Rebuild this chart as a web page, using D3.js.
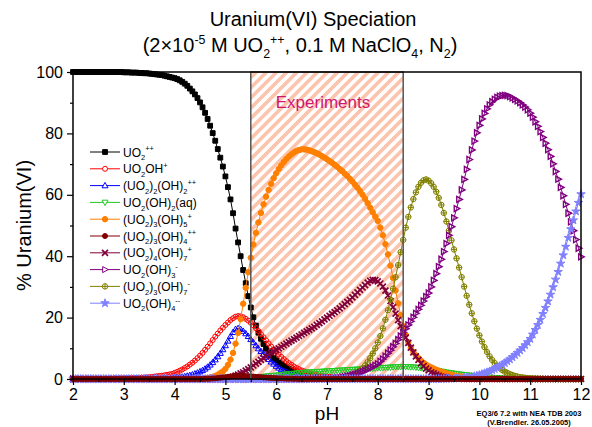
<!DOCTYPE html>
<html>
<head>
<meta charset="utf-8">
<script src="https://cdn.jsdelivr.net/npm/d3@7"></script>
<style>
  body { margin: 0; background: #fff; }
  svg { display: block; font-family: "Liberation Sans", Arial, sans-serif; }
</style>
</head>
<body>
<svg id="chart" width="592" height="427"></svg>
<script>
// readings taken every 0.05 pH, from pH 2 to pH 12 (one row = one pH unit)
const phStart = 2, phStep = 0.05;
const phTicks = [2, 3, 4, 5, 6, 7, 8, 9, 10, 11, 12];
const phMinor = [2.5, 3.5, 4.5, 5.5, 6.5, 7.5, 8.5, 9.5, 10.5, 11.5];
const pctTicks = [0, 20, 40, 60, 80, 100];
const pctMinor = [10, 30, 50, 70, 90];
const expRange = [5.5, 8.5];

const labels = [
  "UO_2^{++}", "UO_2OH^+", "(UO_2)_2(OH)_2^{++}", "UO_2(OH)_2(aq)", "(UO_2)_3(OH)_5^+",
  "(UO_2)_3(OH)_4^{++}", "(UO_2)_4(OH)_7^+", "UO_2(OH)_3^-", "(UO_2)_3(OH)_7^-", "UO_2(OH)_4^{--}"
];

const uo2 = [
  100,100,100,100,100,100,100,100,100,100,100,100,100,100,100,100,100,100,100,100,
  99.9,99.9,99.9,99.8,99.8,99.8,99.7,99.7,99.6,99.6,99.5,99.4,99.3,99.2,99.1,99.0,98.8,98.6,98.4,98.2,
  98.0,97.7,97.3,96.8,96.2,95.5,94.6,93.7,92.7,91.5,90.1,88.5,86.7,84.7,82.5,80.1,77.6,74.9,72.1,69.2,
  66.0,62.5,58.5,54.0,49.0,44.5,40.0,35.5,31.2,27.0,23.3,20.1,17.4,15.1,13.1,11.4,9.9,8.7,7.7,6.8,
  6.1,5.4,4.8,4.3,3.8,3.3,2.9,2.5,2.1,1.8,1.5,1.3,1.1,0.9,0.8,0.7,0.6,0.5,0.4,0.35,
  0.3,0.25,0.2,0.18,0.15,0.12,0.1,0.08,0.06,0.05,0.04,0.03,0.03,0.02,0.02,0.01,0.01,0.01,0,0,
  0,0,0,0,0,0,0,0,0,0,0,0,0,0,0,0,0,0,0,0,
  0,0,0,0,0,0,0,0,0,0,0,0,0,0,0,0,0,0,0,0,
  0,0,0,0,0,0,0,0,0,0,0,0,0,0,0,0,0,0,0,0,
  0,0,0,0,0,0,0,0,0,0,0,0,0,0,0,0,0,0,0,0,
  0
];
const uo2oh = [
  0,0,0,0,0,0.05,0.05,0.05,0.05,0.1,0.1,0.1,0.1,0.1,0.1,0.15,0.15,0.15,0.2,0.2,
  0.2,0.2,0.25,0.3,0.3,0.35,0.4,0.45,0.5,0.55,0.6,0.7,0.8,0.9,1.0,1.1,1.2,1.35,1.5,1.65,
  2.0,2.3,2.7,3.1,3.6,4.1,4.7,5.3,6.0,6.8,7.6,8.5,9.5,10.5,11.6,12.7,13.8,14.8,15.8,16.7,
  17.6,18.4,19.2,19.8,20.3,20.5,20.4,20.1,19.6,19.0,18.3,17.5,16.6,15.6,14.6,13.6,12.6,11.6,10.6,9.7,
  8.8,8.0,7.2,6.5,5.8,5.2,4.6,4.1,3.6,3.2,2.8,2.5,2.2,1.9,1.7,1.5,1.3,1.1,1.0,0.9,
  0.8,0.7,0.6,0.5,0.45,0.4,0.35,0.3,0.25,0.2,0.2,0.15,0.15,0.1,0.1,0.1,0.1,0.05,0.05,0.05,
  0,0,0,0,0,0,0,0,0,0,0,0,0,0,0,0,0,0,0,0,
  0,0,0,0,0,0,0,0,0,0,0,0,0,0,0,0,0,0,0,0,
  0,0,0,0,0,0,0,0,0,0,0,0,0,0,0,0,0,0,0,0,
  0,0,0,0,0,0,0,0,0,0,0,0,0,0,0,0,0,0,0,0,
  0
];
const dimer22 = [
  0,0,0,0,0,0,0,0,0,0,0,0,0,0,0,0,0,0,0,0,
  0,0,0,0,0,0,0,0,0,0,0,0,0,0,0.1,0.1,0.1,0.2,0.2,0.3,
  0.4,0.5,0.6,0.7,0.8,1.0,1.2,1.4,1.7,2.0,2.4,2.8,3.3,3.9,4.6,5.4,6.3,7.3,8.4,9.6,
  10.9,12.4,13.9,15.2,16.2,16.5,16.2,15.6,14.8,13.9,12.9,11.9,10.9,9.9,9.0,8.1,7.2,6.4,5.6,4.9,
  4.2,3.6,3.1,2.6,2.2,1.8,1.5,1.2,1.0,0.8,0.65,0.5,0.4,0.3,0.25,0.2,0.15,0.1,0.1,0.05,
  0,0,0,0,0,0,0,0,0,0,0,0,0,0,0,0,0,0,0,0,
  0,0,0,0,0,0,0,0,0,0,0,0,0,0,0,0,0,0,0,0,
  0,0,0,0,0,0,0,0,0,0,0,0,0,0,0,0,0,0,0,0,
  0,0,0,0,0,0,0,0,0,0,0,0,0,0,0,0,0,0,0,0,
  0,0,0,0,0,0,0,0,0,0,0,0,0,0,0,0,0,0,0,0,
  0
];
const uo2oh2aq = [
  0,0,0,0,0,0,0,0,0,0,0,0,0,0,0,0,0,0,0,0,
  0,0,0,0,0,0,0,0,0,0,0,0,0,0,0,0,0,0,0,0,
  0,0,0,0,0,0,0,0,0,0,0,0,0,0,0,0,0,0,0,0,
  0,0,0,0.1,0.1,0.1,0.2,0.2,0.3,0.3,0.4,0.5,0.5,0.6,0.7,0.8,0.9,1.0,1.0,1.1,
  1.2,1.3,1.4,1.5,1.6,1.6,1.7,1.8,1.9,2.0,2.0,2.1,2.2,2.2,2.3,2.3,2.4,2.4,2.5,2.5,
  2.6,2.6,2.7,2.7,2.8,2.8,2.9,2.9,3.0,3.0,3.1,3.1,3.2,3.2,3.3,3.3,3.4,3.4,3.5,3.5,
  3.6,3.6,3.7,3.7,3.8,3.8,3.9,3.9,4.0,4.0,4.0,4.0,4.0,3.9,3.9,3.8,3.7,3.6,3.5,3.4,
  3.3,3.1,3.0,2.8,2.7,2.5,2.4,2.2,2.1,2.0,1.8,1.7,1.6,1.5,1.4,1.3,1.2,1.1,1.0,0.9,
  0.8,0.7,0.7,0.6,0.5,0.5,0.4,0.4,0.3,0.3,0.2,0.2,0.2,0.1,0.1,0.1,0.1,0.1,0,0,
  0,0,0,0,0,0,0,0,0,0,0,0,0,0,0,0,0,0,0,0,
  0
];
const trimer35 = [
  0,0,0,0,0,0,0,0,0,0,0,0,0,0,0,0,0,0,0,0,
  0,0,0,0,0,0,0,0,0,0,0,0,0,0,0,0,0,0,0,0,
  0,0,0,0,0,0,0,0,0,0,0,0.1,0.2,0.3,0.5,0.7,1.0,1.4,1.9,2.5,
  3.3,4.6,6.3,8.5,11.5,15.0,19.5,24.5,29.7,34.8,39.5,43.8,47.6,51.0,54.1,56.9,59.4,61.6,63.6,65.4,
  67.0,68.4,69.6,70.7,71.7,72.5,73.2,73.8,74.3,74.6,74.8,74.8,74.7,74.5,74.2,73.9,73.5,73.1,72.6,72.1,
  71.6,71.0,70.4,69.8,69.1,68.4,67.7,66.9,66.1,65.2,64.3,63.3,62.3,61.2,60.0,58.7,57.3,55.8,54.3,52.9,
  51.5,49.3,46.8,43.9,40.6,36.9,32.9,28.8,24.7,20.8,17.2,14.4,12.0,10.2,8.8,7.7,6.8,6.0,5.3,4.7,
  4.2,3.8,3.4,3.0,2.7,2.4,2.1,1.9,1.6,1.4,1.2,1.0,0.9,0.8,0.7,0.6,0.5,0.4,0.35,0.3,
  0.25,0.2,0.15,0.1,0.1,0.05,0,0,0,0,0,0,0,0,0,0,0,0,0,0,
  0,0,0,0,0,0,0,0,0,0,0,0,0,0,0,0,0,0,0,0,
  0
];
const trimer34 = [
  0,0,0,0,0,0,0,0,0,0,0,0,0,0,0,0,0,0,0,0,
  0,0,0,0,0,0,0,0,0,0,0,0,0,0,0,0,0,0,0,0,
  0,0,0,0,0,0,0,0,0,0,0,0,0.05,0.05,0.1,0.15,0.2,0.3,0.4,0.5,
  0.6,0.7,0.8,0.9,1.0,1.0,1.0,1.0,0.95,0.9,0.85,0.8,0.7,0.65,0.6,0.5,0.45,0.4,0.35,0.3,
  0.25,0.2,0.2,0.15,0.1,0.1,0.1,0.05,0.05,0,0,0,0,0,0,0,0,0,0,0,
  0,0,0,0,0,0,0,0,0,0,0,0,0,0,0,0,0,0,0,0,
  0,0,0,0,0,0,0,0,0,0,0,0,0,0,0,0,0,0,0,0,
  0,0,0,0,0,0,0,0,0,0,0,0,0,0,0,0,0,0,0,0,
  0,0,0,0,0,0,0,0,0,0,0,0,0,0,0,0,0,0,0,0,
  0,0,0,0,0,0,0,0,0,0,0,0,0,0,0,0,0,0,0,0,
  0
];
const tetramer47 = [
  0,0,0,0,0,0,0,0,0,0,0,0,0,0,0,0,0,0,0,0,
  0,0,0,0,0,0,0,0,0,0,0,0,0,0,0,0,0,0,0,0,
  0,0,0,0,0,0,0,0,0,0,0,0,0,0,0,0,0,0.1,0.1,0.2,
  0.3,0.4,0.6,0.8,1.1,1.4,1.8,2.2,2.7,3.2,3.8,4.4,5.0,5.6,6.2,6.8,7.4,8.0,8.5,9.0,
  9.5,10.0,10.5,11.0,11.5,12.0,12.5,13.0,13.5,14.0,14.5,15.0,15.5,16.0,16.5,17.0,17.6,18.2,18.8,19.4,
  20.0,20.6,21.2,21.8,22.4,23.0,23.7,24.4,25.1,25.8,26.6,27.4,28.2,29.0,29.8,30.6,31.4,32.0,32.3,32.2,
  31.8,31.1,30.1,28.8,27.2,25.4,23.4,21.3,19.2,17.2,15.3,13.5,11.8,10.2,8.7,7.4,6.2,5.1,4.2,3.4,
  2.8,2.2,1.8,1.4,1.1,0.8,0.6,0.5,0.4,0.3,0.2,0.15,0.1,0.1,0.05,0,0,0,0,0,
  0,0,0,0,0,0,0,0,0,0,0,0,0,0,0,0,0,0,0,0,
  0,0,0,0,0,0,0,0,0,0,0,0,0,0,0,0,0,0,0,0,
  0
];
const uo2oh3 = [
  0,0,0,0,0,0,0,0,0,0,0,0,0,0,0,0,0,0,0,0,
  0,0,0,0,0,0,0,0,0,0,0,0,0,0,0,0,0,0,0,0,
  0,0,0,0,0,0,0,0,0,0,0,0,0,0,0,0,0,0,0,0,
  0,0,0,0,0,0,0,0,0,0,0,0,0,0,0,0,0,0,0,0,
  0,0,0,0,0,0,0,0,0,0,0,0,0,0,0.05,0.1,0.1,0.1,0.15,0.2,
  0.2,0.2,0.3,0.3,0.4,0.5,0.6,0.7,0.9,1.1,1.3,1.5,1.8,2.1,2.4,2.7,3.1,3.5,3.9,4.4,
  4.9,5.7,6.5,7.4,8.4,9.4,10.5,11.6,12.8,14.0,15.2,16.4,17.6,18.8,20.1,21.4,22.7,24.0,25.4,26.8,
  28.0,30.0,32.1,34.3,36.6,39.0,41.5,44.1,46.8,49.6,52.5,55.5,58.5,61.6,65.0,68.3,71.5,74.6,77.5,80.2,
  82.6,84.7,86.5,88.0,89.3,90.3,91.1,91.7,92.1,92.3,92.4,92.3,92.0,91.6,91.1,90.6,90.0,89.3,88.6,87.7,
  86.6,85.3,83.8,82.3,80.6,78.7,76.8,74.7,72.5,70.1,67.6,65.1,62.4,59.7,56.9,54.0,51.2,48.3,45.4,42.6,
  39.8
];
const trimer37 = [
  0,0,0,0,0,0,0,0,0,0,0,0,0,0,0,0,0,0,0,0,
  0,0,0,0,0,0,0,0,0,0,0,0,0,0,0,0,0,0,0,0,
  0,0,0,0,0,0,0,0,0,0,0,0,0,0,0,0,0,0,0,0,
  0,0,0,0,0,0,0,0,0,0,0,0,0,0,0,0,0,0,0,0,
  0,0,0,0,0,0,0,0,0,0,0,0,0,0,0,0,0,0,0,0,
  0,0,0,0,0,0,0.1,0.2,0.3,0.6,1.0,1.4,2.0,2.7,3.5,4.4,5.5,6.8,8.3,10.0,
  11.9,14.0,16.5,19.3,22.4,25.8,29.4,33.2,37.1,41.3,45.3,49.3,52.8,55.9,58.6,60.8,62.6,63.9,64.7,65.0,
  64.6,63.8,62.6,61.0,59.0,56.7,54.1,51.3,48.3,45.2,42.2,39.3,36.3,33.2,30.1,27.1,24.2,21.4,18.8,16.4,
  14.2,12.2,10.4,8.8,7.4,6.2,5.2,4.3,3.5,2.9,2.4,2.0,1.6,1.3,1.0,0.8,0.6,0.5,0.4,0.3,
  0.25,0.2,0.15,0.1,0.1,0.05,0,0,0,0,0,0,0,0,0,0,0,0,0,0,
  0
];
const uo2oh4 = [
  0,0,0,0,0,0,0,0,0,0,0,0,0,0,0,0,0,0,0,0,
  0,0,0,0,0,0,0,0,0,0,0,0,0,0,0,0,0,0,0,0,
  0,0,0,0,0,0,0,0,0,0,0,0,0,0,0,0,0,0,0,0,
  0,0,0,0,0,0,0,0,0,0,0,0,0,0,0,0,0,0,0,0,
  0,0,0,0,0,0,0,0,0,0,0,0,0,0,0,0,0,0,0,0,
  0,0,0,0,0,0,0,0,0,0,0,0,0,0,0,0,0,0,0,0,
  0,0,0,0,0,0,0,0,0,0,0,0,0,0,0,0,0,0,0,0,
  0,0,0,0,0,0,0.05,0.05,0.1,0.1,0.15,0.2,0.25,0.3,0.4,0.5,0.6,0.7,0.9,1.1,
  1.3,1.6,1.9,2.2,2.5,2.9,3.3,3.7,4.2,4.7,5.2,5.8,6.4,7.1,7.8,8.5,9.3,10.1,11.0,12.0,
  13.1,14.5,16.0,17.6,19.3,21.2,23.2,25.3,27.5,29.9,32.4,34.9,37.6,40.3,43.1,46.0,48.8,51.7,54.6,57.4,
  60.2
];

const series = [
  { name: labels[0], values: uo2,        color: "#000000", marker: "square",     filled: true },
  { name: labels[1], values: uo2oh,      color: "#ff0000", marker: "circle",     filled: false },
  { name: labels[2], values: dimer22,    color: "#0000ff", marker: "triUp",      filled: false },
  { name: labels[3], values: uo2oh2aq,   color: "#22c822", marker: "triDown",    filled: false },
  { name: labels[4], values: trimer35,   color: "#ff8000", marker: "circlePlus", filled: true },
  { name: labels[5], values: trimer34,   color: "#800000", marker: "circle",     filled: true },
  { name: labels[6], values: tetramer47, color: "#80003a", marker: "x",          filled: false },
  { name: labels[7], values: uo2oh3,     color: "#800080", marker: "triRight",   filled: false },
  { name: labels[8], values: trimer37,   color: "#808000", marker: "circlePlus", filled: false },
  { name: labels[9], values: uo2oh4,     color: "#8080ff", marker: "star",       filled: true }
];
const drawOrder = [0, 1, 2, 3, 4, 6, 8, 7, 9, 5];

const svg = d3.select("#chart");
const x = d3.scaleLinear().domain([2, 12]).range([73, 581]);
const y = d3.scaleLinear().domain([0, 100]).range([379, 72]);
const phAt = i => phStart + i * phStep;

// little parser for "UO_2^{++}" style labels
function parseChem(s) {
  const segs = [];
  let buf = "", i = 0;
  while (i < s.length) {
    const c = s[i];
    if (c === "_" || c === "^") {
      if (buf) { segs.push({ t: buf, m: 0 }); buf = ""; }
      let t;
      if (s[i + 1] === "{") { const j = s.indexOf("}", i); t = s.slice(i + 2, j); i = j + 1; }
      else { t = s[i + 1]; i += 2; }
      segs.push({ t: t, m: c === "_" ? 1 : -1 });
    } else { buf += c; i++; }
  }
  if (buf) segs.push({ t: buf, m: 0 });
  return segs;
}
function richText(sel, s, size) {
  let cur = 0;
  parseChem(s).forEach(seg => {
    const off = seg.m === 1 ? size * 0.3 : seg.m === -1 ? -size * 0.42 : 0;
    sel.append("tspan")
      .attr("dy", off - cur)
      .attr("font-size", seg.m ? size * 0.62 : size)
      .text(seg.t);
    cur = off;
  });
}

const circ = r => `M${r},0A${r},${r} 0 1,1 ${-r},0A${r},${r} 0 1,1 ${r},0Z`;
function markerPath(kind) {
  if (kind === "square") return "M-2.4,-2.4H2.4V2.4H-2.4Z";
  if (kind === "circle") return circ(2.5);
  if (kind === "triUp") return "M0,-3.2L3,2.2H-3Z";
  if (kind === "triDown") return "M0,3.2L3,-2.2H-3Z";
  if (kind === "triRight") return "M3.3,0L-2.3,-3V3Z";
  if (kind === "circlePlus") return circ(2.7) + "M-3,0H3M0,-3V3";
  if (kind === "x") return "M-3,-3L3,3M-3,3L3,-3";
  if (kind === "star") return d3.symbol(d3.symbolStar, 22)();
  return circ(2.5);
}

// hatched experiments window
const defs = svg.append("defs");
defs.append("pattern")
  .attr("id", "hatch")
  .attr("patternUnits", "userSpaceOnUse")
  .attr("width", 7.2).attr("height", 7.2)
  .attr("patternTransform", "rotate(45)")
  .append("rect")
  .attr("width", 3.6).attr("height", 7.2)
  .attr("fill", "#fcc3ad");

svg.append("rect")
  .attr("x", x(expRange[0])).attr("y", y(100))
  .attr("width", x(expRange[1]) - x(expRange[0]))
  .attr("height", y(0) - y(100))
  .attr("fill", "url(#hatch)");

svg.append("text")
  .attr("x", 323)
  .attr("y", 108)
  .attr("text-anchor", "middle")
  .attr("font-size", 17)
  .attr("fill", "#d0166e")
  .text("Experiments");

// curves
const line = d3.line().x((d, i) => x(phAt(i))).y(d => y(d));
const plot = svg.append("g");
drawOrder.forEach(k => {
  const s = series[k];
  const g = plot.append("g");
  g.append("path")
    .attr("d", line(s.values))
    .attr("fill", "none")
    .attr("stroke", s.color)
    .attr("stroke-width", 1);
  g.selectAll("path.m")
    .data(s.values)
    .enter()
    .append("path")
    .attr("class", "m")
    .attr("transform", (d, i) => `translate(${x(phAt(i))},${y(d)})`)
    .attr("d", markerPath(s.marker))
    .attr("fill", s.filled ? s.color : "none")
    .attr("stroke", s.color)
    .attr("stroke-width", s.marker === "x" ? 1.7 : s.marker === "triRight" ? 1.4 : 1);
});

// experiments border over curves
svg.append("rect")
  .attr("x", x(expRange[0])).attr("y", y(100))
  .attr("width", x(expRange[1]) - x(expRange[0]))
  .attr("height", y(0) - y(100))
  .attr("fill", "none")
  .attr("stroke", "#555")
  .attr("stroke-width", 1.5);

// axes
const fontAxis = g => g.selectAll("text").attr("font-size", 16).attr("fill", "#000")
  .attr("font-family", "Liberation Sans, Arial, sans-serif");

const xAxis = svg.append("g")
  .attr("transform", `translate(0,${y(0)})`)
  .call(d3.axisBottom(x).tickValues(phTicks).tickSize(6).tickPadding(4).tickFormat(d3.format("d")));
xAxis.select(".domain").remove();
fontAxis(xAxis);
const xMinor = svg.append("g")
  .attr("transform", `translate(0,${y(0)})`)
  .call(d3.axisBottom(x).tickValues(phMinor).tickSize(3).tickFormat(""));
xMinor.select(".domain").remove();

const yAxis = svg.append("g")
  .attr("transform", `translate(${x(2)},0)`)
  .call(d3.axisLeft(y).tickValues(pctTicks).tickSize(6).tickPadding(4).tickFormat(d3.format("d")));
yAxis.select(".domain").remove();
fontAxis(yAxis);
const yMinor = svg.append("g")
  .attr("transform", `translate(${x(2)},0)`)
  .call(d3.axisLeft(y).tickValues(pctMinor).tickSize(3).tickFormat(""));
yMinor.select(".domain").remove();
svg.selectAll(".tick line").attr("stroke", "#000").attr("stroke-width", 1.2);

svg.append("rect")
  .attr("x", x(2)).attr("y", y(100))
  .attr("width", x(12) - x(2)).attr("height", y(0) - y(100))
  .attr("fill", "none")
  .attr("stroke", "#000")
  .attr("stroke-width", 1.5);

// legend
const legend = svg.append("g");
series.forEach((s, i) => {
  const ly = 152 + i * 16.8;
  legend.append("line")
    .attr("x1", 90).attr("x2", 120).attr("y1", ly).attr("y2", ly)
    .attr("stroke", s.color).attr("stroke-width", 1);
  legend.append("path")
    .attr("transform", `translate(105,${ly})`)
    .attr("d", markerPath(s.marker))
    .attr("fill", s.filled ? s.color : "#fff")
    .attr("stroke", s.color)
    .attr("stroke-width", s.marker === "x" ? 1.7 : 1);
  const t = legend.append("text")
    .attr("x", 123).attr("y", ly + 4.5)
    .attr("font-size", 12);
  richText(t, s.name, 12);
});

// titles
const t1 = svg.append("text").attr("x", 313).attr("y", 26)
  .attr("text-anchor", "middle").attr("font-size", 20);
richText(t1, "Uranium(VI) Speciation", 20);
const t2 = svg.append("text").attr("x", 300).attr("y", 52)
  .attr("text-anchor", "middle").attr("font-size", 20);
richText(t2, "(2×10^{-5} M UO_2^{++}, 0.1 M NaClO_4, N_2)", 20);

svg.append("text")
  .attr("transform", `translate(31,${(y(0) + y(100)) / 2}) rotate(-90)`)
  .attr("text-anchor", "middle")
  .attr("font-size", 20)
  .text("% Uranium(VI)");

svg.append("text")
  .attr("x", (x(2) + x(12)) / 2).attr("y", 420)
  .attr("text-anchor", "middle")
  .attr("font-size", 19)
  .text("pH");

svg.append("text")
  .attr("x", 529).attr("y", 416)
  .attr("text-anchor", "middle")
  .attr("font-size", 7.5).attr("font-weight", "bold")
  .text("EQ3/6 7.2 with NEA TDB 2003");
svg.append("text")
  .attr("x", 529).attr("y", 425)
  .attr("text-anchor", "middle")
  .attr("font-size", 7.5).attr("font-weight", "bold")
  .text("(V.Brendler. 26.05.2005)");
</script>
</body>
</html>
